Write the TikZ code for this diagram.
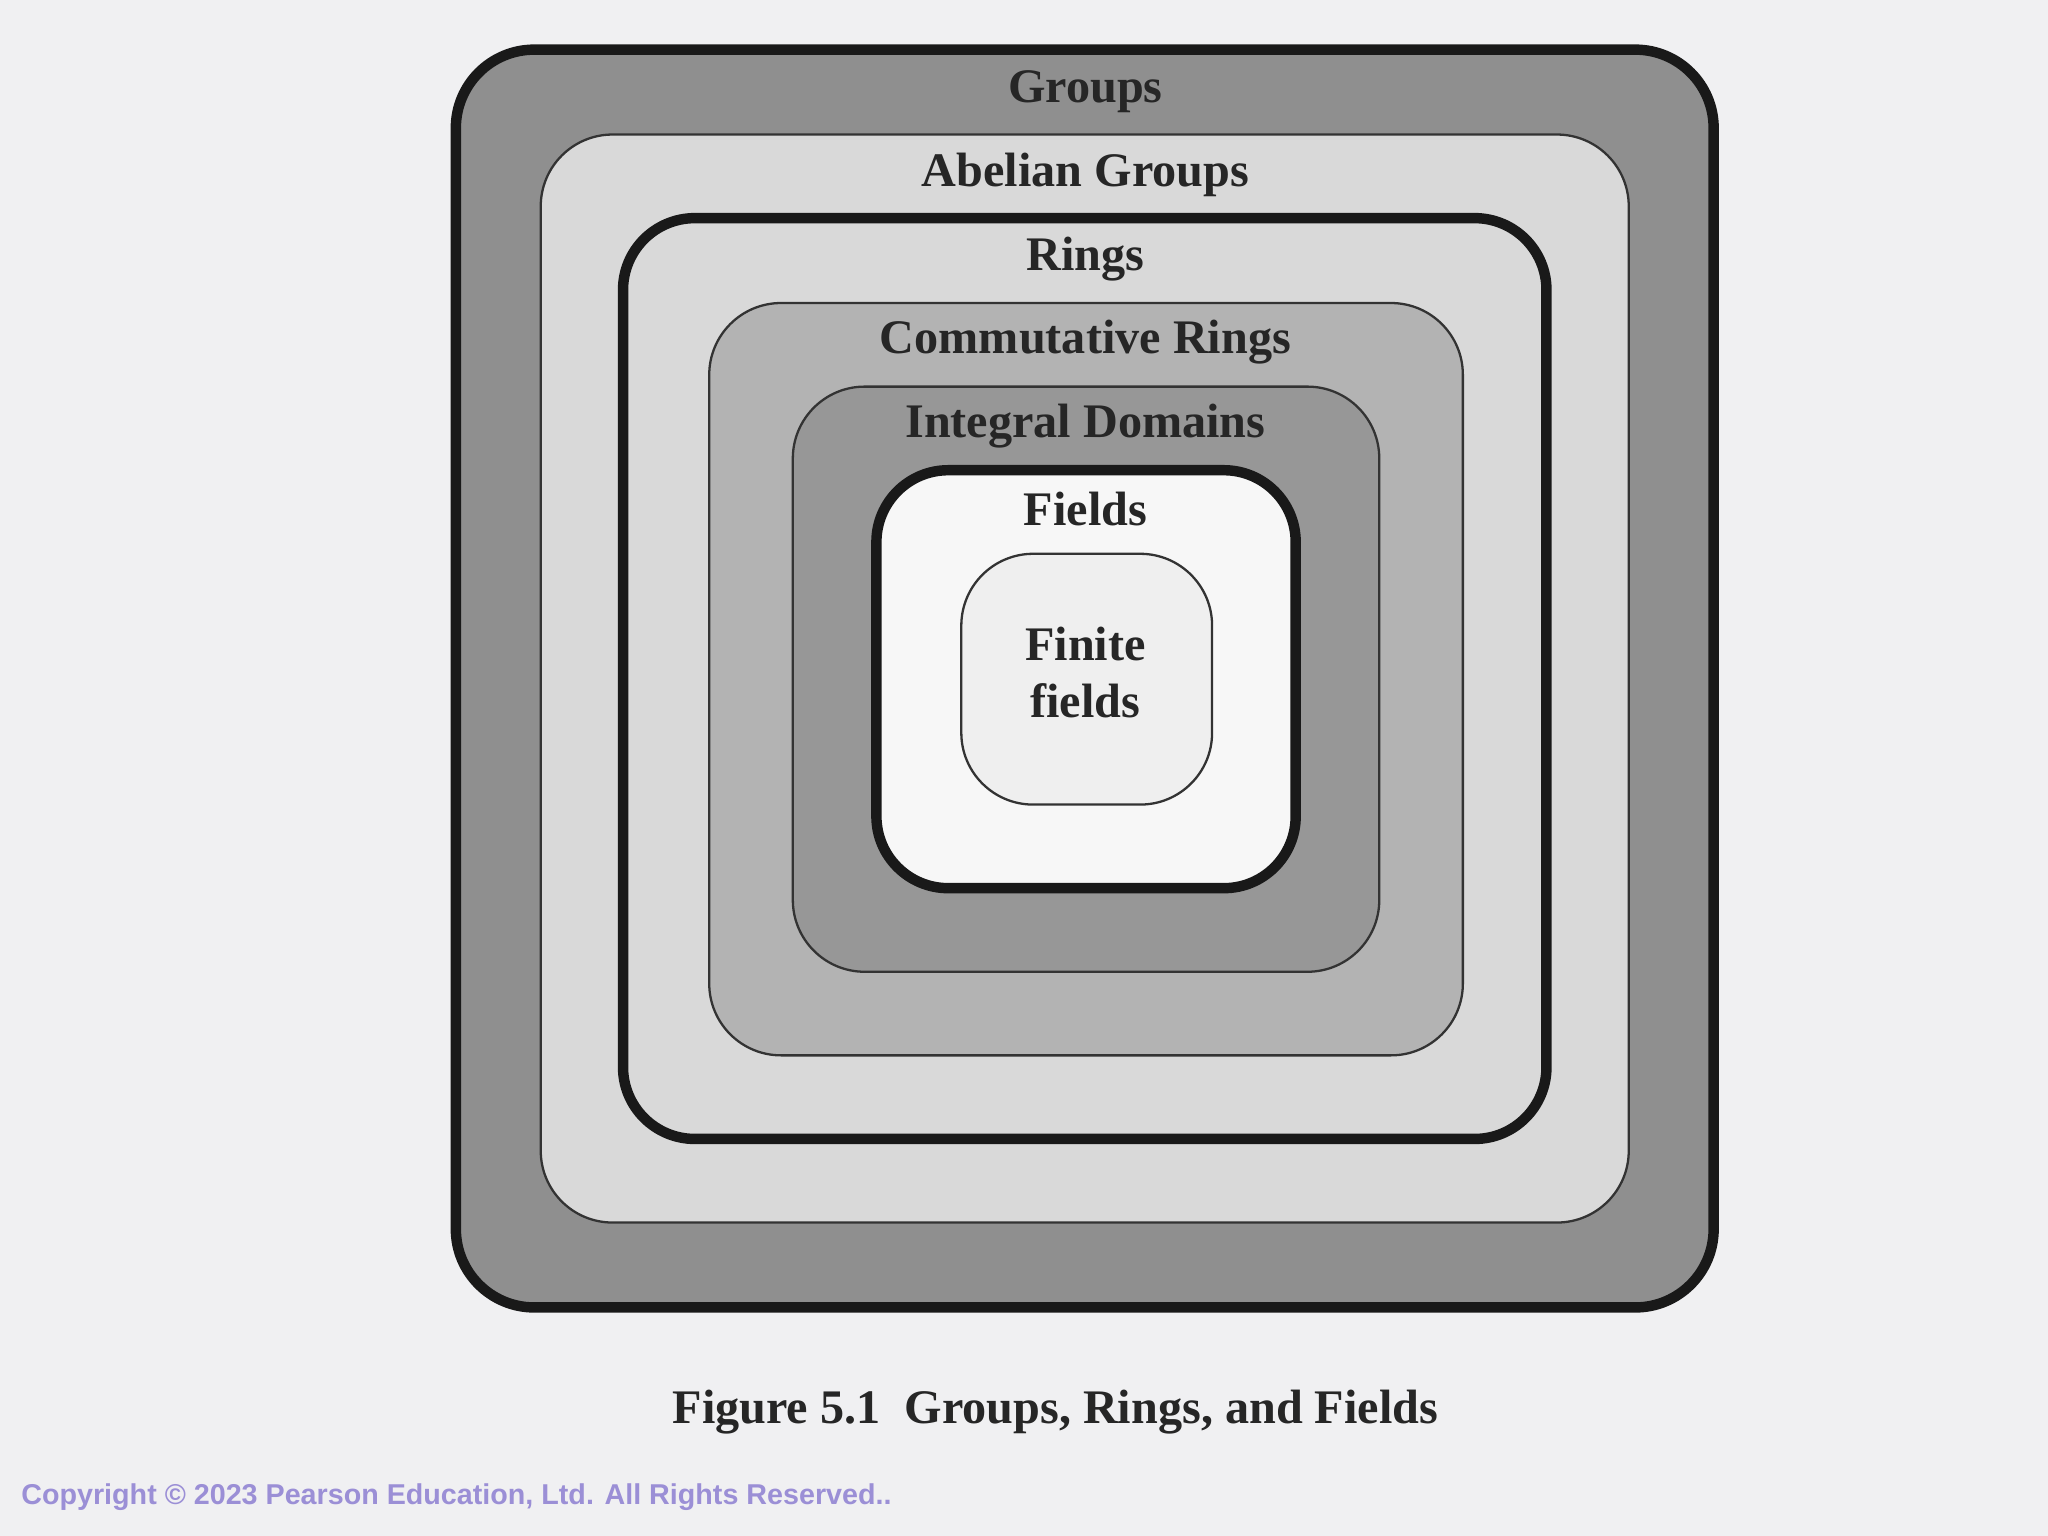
\documentclass[tikz,border=0pt]{standalone}
\usepackage{fontspec}
\setmainfont{Liberation Serif}
\newfontfamily\sansf{Liberation Sans}
\definecolor{bg}{HTML}{F0F0F2}
\definecolor{gA}{HTML}{8F8F8F}
\definecolor{gB}{HTML}{D9D9D9}
\definecolor{gC}{HTML}{B3B3B3}
\definecolor{gD}{HTML}{979797}
\definecolor{gE}{HTML}{F7F7F7}
\definecolor{gF}{HTML}{EFEFEF}
\definecolor{cp}{HTML}{9B8FD6}
\begin{document}
\begin{tikzpicture}[x=0.02cm,y=-0.02cm,
  thickb/.style={draw=black!90,line width=1.6mm},
  thinb/.style={draw=black!80,line width=0.35mm},
  lbl/.style={font=\fontsize{21}{25}\selectfont\bfseries,text=black!85,inner sep=0pt}]
\fill[bg] (0,0) rectangle (1568,1176);
\useasboundingbox (0,0) rectangle (1568,1176);
\draw[thickb,fill=gA,rounded corners=1.2cm] (349,38) rectangle (1312,1001);
\draw[thinb,fill=gB,rounded corners=1.1cm] (414,103) rectangle (1247,936);
\draw[thickb,fill=gB,rounded corners=1.1cm] (477,167) rectangle (1184,872);
\draw[thinb,fill=gC,rounded corners=1.1cm] (543,232) rectangle (1120,808);
\draw[thinb,fill=gD,rounded corners=1.1cm] (607,296) rectangle (1056,744);
\draw[thickb,fill=gE,rounded corners=1.1cm] (671,360) rectangle (992,680);
\draw[thinb,fill=gF,rounded corners=1.1cm] (736,424) rectangle (928,616);
\node[lbl] (g) at (831,70) {Groups};
\node[lbl] (a) at (831,134) {Abelian Groups};
\node[lbl] (r) at (831,198) {Rings};
\node[lbl] (c) at (831,262) {Commutative Rings};
\node[lbl] (i) at (831,326) {Integral Domains};
\node[lbl] (f) at (831,390) {Fields};
\node[lbl,align=center] (ff) at (831,515) {Finite\\fields};
\node[lbl] (cap) at (808,1081) {Figure 5.1\ \ Groups, Rings, and Fields};
\node[anchor=west,inner sep=0pt,text=cp,font=\sansf\fontsize{12.5}{15}\selectfont\bfseries] (copy) at (16,1146) {Copyright © 2023 Pearson Education, Ltd. All Rights Reserved..};
\end{tikzpicture}
\end{document}
